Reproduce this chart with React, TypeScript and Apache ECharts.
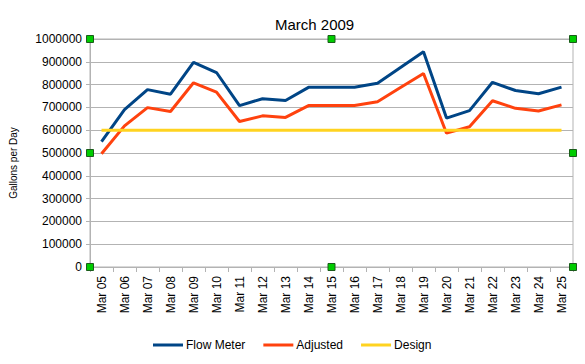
import React, { useEffect, useRef } from "react";
import * as echarts from "echarts";

const categories = [
  "Mar 05", "Mar 06", "Mar 07", "Mar 08", "Mar 09", "Mar 10", "Mar 11",
  "Mar 12", "Mar 13", "Mar 14", "Mar 15", "Mar 16", "Mar 17", "Mar 18",
  "Mar 19", "Mar 20", "Mar 21", "Mar 22", "Mar 23", "Mar 24", "Mar 25",
];
const flowMeter = [
  550000, 690000, 778000, 758000, 898000, 853000, 708000, 738000, 730000,
  788000, 788000, 788000, 806000, 875000, 944000, 653000, 686000, 810000,
  774000, 760000, 789000,
];
const adjusted = [
  497000, 619000, 699000, 682000, 808000, 767000, 638000, 663000, 656000,
  708000, 708000, 708000, 725000, 787000, 849000, 587000, 615000, 729000,
  696000, 684000, 711000,
];
const design = [
  600000, 600000, 600000, 600000, 600000, 600000, 600000, 600000, 600000,
  600000, 600000, 600000, 600000, 600000, 600000, 600000, 600000, 600000,
  600000, 600000, 600000,
];
const seriesNames = ["Flow Meter", "Adjusted", "Design"];

const GRID_L = 90, GRID_R = 573, GRID_T = 39, GRID_B = 267;

export default function App() {
  const ref = useRef<HTMLDivElement>(null);
  useEffect(() => {
    if (!ref.current) return;
    const chart = echarts.init(ref.current, null, { renderer: "svg" });
    const font = "'Liberation Sans', Arial, sans-serif";
    const handles: any[] = [];
    const hx = [GRID_L, (GRID_L + GRID_R) / 2, GRID_R];
    const hy = [GRID_T, (GRID_T + GRID_B) / 2, GRID_B];
    hx.forEach((x, i) =>
      hy.forEach((y, j) => {
        if (i === 1 && j === 1) return;
        handles.push({
          type: "rect",
          shape: { x: x - 3.5, y: y - 3.5, width: 7, height: 7 },
          style: { fill: "#00cc00", stroke: "#1a5c1a", lineWidth: 1 },
          z: 100,
        });
      })
    );
    const mk = (name: string, data: number[], color: string) => ({
      name,
      type: "line",
      data,
      symbol: "none",
      lineStyle: { color, width: 3 },
      itemStyle: { color },
    });
    chart.setOption({
      animation: false,
      backgroundColor: "#ffffff",
      title: {
        text: "March 2009",
        left: 270,
        top: 12,
        textStyle: { fontFamily: font, fontSize: 15, fontWeight: "normal", color: "#000" },
      },
      grid: {
        left: GRID_L,
        right: 585 - GRID_R,
        top: GRID_T,
        bottom: 364 - GRID_B,
        show: true,
        borderColor: "#b3b3b3",
        borderWidth: 1,
      },
      legend: {
        data: seriesNames,
        bottom: 8,
        left: 148,
        itemWidth: 30,
        itemHeight: 3,
        itemGap: 18,
        icon: "rect",
        textStyle: { fontFamily: font, fontSize: 12, color: "#000", padding: [0, 0, 0, -2] },
      },
      xAxis: {
        type: "category",
        data: categories,
        boundaryGap: true,
        axisLine: { lineStyle: { color: "#b3b3b3" } },
        axisTick: { show: true, length: 5, lineStyle: { color: "#b3b3b3" } },
        axisLabel: { rotate: 90, margin: 9, fontFamily: font, fontSize: 12, color: "#000", interval: 0 },
        splitLine: { show: false },
      },
      yAxis: {
        type: "value",
        min: 0,
        max: 1000000,
        interval: 100000,
        axisLine: { show: true, lineStyle: { color: "#b3b3b3" } },
        axisTick: { show: true, length: 4, lineStyle: { color: "#b3b3b3" } },
        axisLabel: {
          fontFamily: font,
          fontSize: 12,
          color: "#000",
          margin: 8,
          formatter: (v: number) => String(v),
        },
        splitLine: { lineStyle: { color: "#b3b3b3" } },
      },
      series: [
        mk(seriesNames[0], flowMeter, "#004586"),
        mk(seriesNames[1], adjusted, "#ff420e"),
        mk(seriesNames[2], design, "#ffd320"),
      ],
      graphic: [
        {
          type: "text",
          x: 13,
          y: 163,
          rotation: Math.PI / 2,
          style: {
            text: "Gallons per Day",
            fontFamily: font,
            fontSize: 10,
            fill: "#000",
            align: "center",
            verticalAlign: "middle",
          },
        },
        ...handles,
      ],
    });
    return () => chart.dispose();
  }, []);
  return <div ref={ref} style={{ width: 585, height: 364, position: "absolute", left: 0, top: 0 }} />;
}
